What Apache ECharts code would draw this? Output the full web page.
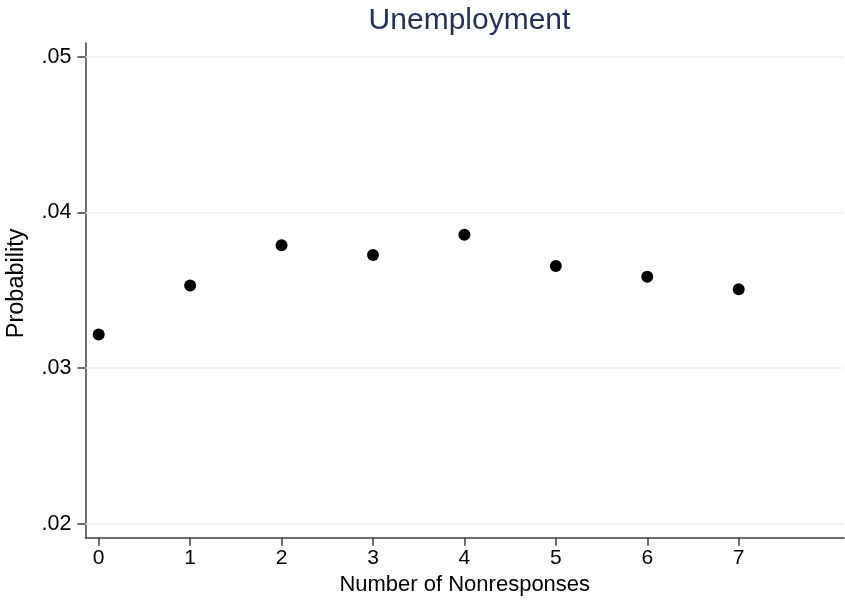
<!DOCTYPE html>
<html><head><meta charset="utf-8">
<script src="https://cdn.jsdelivr.net/npm/echarts@6/dist/echarts.min.js"></script>
<style>html,body{margin:0;padding:0;background:#fff}#c{width:845px;height:600px}</style>
</head><body><div id="c"></div>
<script>
var nonresponses = [0, 1, 2, 3, 4, 5, 6, 7];
var probability = [0.03216, 0.03531, 0.0379, 0.03727, 0.03858, 0.03657, 0.03588, 0.03507];
var xTicks = [0, 1, 2, 3, 4, 5, 6, 7];
var yTicks = [0.02, 0.03, 0.04, 0.05];

var FONT = '"Liberation Sans", Arial, Helvetica, sans-serif';
var chart = echarts.init(document.getElementById('c'), null, {renderer: 'canvas'});
chart.setOption({
  animation: false,
  backgroundColor: '#ffffff',
  title: {
    text: 'Unemployment',
    left: 464.5, top: 1, textAlign: 'center',
    textStyle: {color: '#1f2f5f', fontFamily: FONT, fontSize: 30, fontWeight: 'normal'}
  },
  grid: {left: 85.5, right: 1, top: 43, bottom: 62.3, containLabel: false, outerBoundsMode: 'none'},
  xAxis: {
    type: 'value', min: -0.1444, max: 8.152,
    name: 'Number of Nonresponses', nameLocation: 'middle', nameGap: 31,
    nameTextStyle: {color: '#000', fontFamily: FONT, fontSize: 22, verticalAlign: 'top'},
    axisLine: {show: true, onZero: false, lineStyle: {color: '#3c3c3c', width: 1.5}},
    axisTick: {show: true, length: 8, customValues: xTicks, lineStyle: {color: '#3c3c3c', width: 1.5}},
    axisLabel: {customValues: xTicks, margin: 10, color: '#000', fontFamily: FONT, fontSize: 21},
    splitLine: {show: false}
  },
  yAxis: {
    type: 'value', min: 0.0191, max: 0.0509,
    name: 'Probability', nameLocation: 'middle', nameGap: 57, nameRotate: 90,
    nameTextStyle: {color: '#000', fontFamily: FONT, fontSize: 23.5, padding: [0, 0, 0, 14]},
    axisLine: {show: true, onZero: false, lineStyle: {color: '#3c3c3c', width: 1.5}},
    axisTick: {show: true, length: 8, customValues: yTicks, lineStyle: {color: '#3c3c3c', width: 1.5}},
    axisLabel: {customValues: yTicks, margin: 14, color: '#000', fontFamily: FONT, fontSize: 21.5,
      formatter: function (v) { return v.toFixed(2).replace(/^0/, ''); }},
    splitLine: {show: false}
  },
  series: [{
    type: 'scatter',
    data: nonresponses.map(function (x, i) { return [x, probability[i]]; }),
    symbol: 'circle', symbolSize: 12,
    itemStyle: {color: '#000', opacity: 1},
    z: 5,
    markLine: {
      silent: true, symbol: 'none', z: 1,
      label: {show: false},
      lineStyle: {color: '#e8f0f4', width: 1.5, type: 'solid', opacity: 1},
      data: yTicks.map(function (v) { return {yAxis: v}; })
    }
  }]
});
</script></body></html>
